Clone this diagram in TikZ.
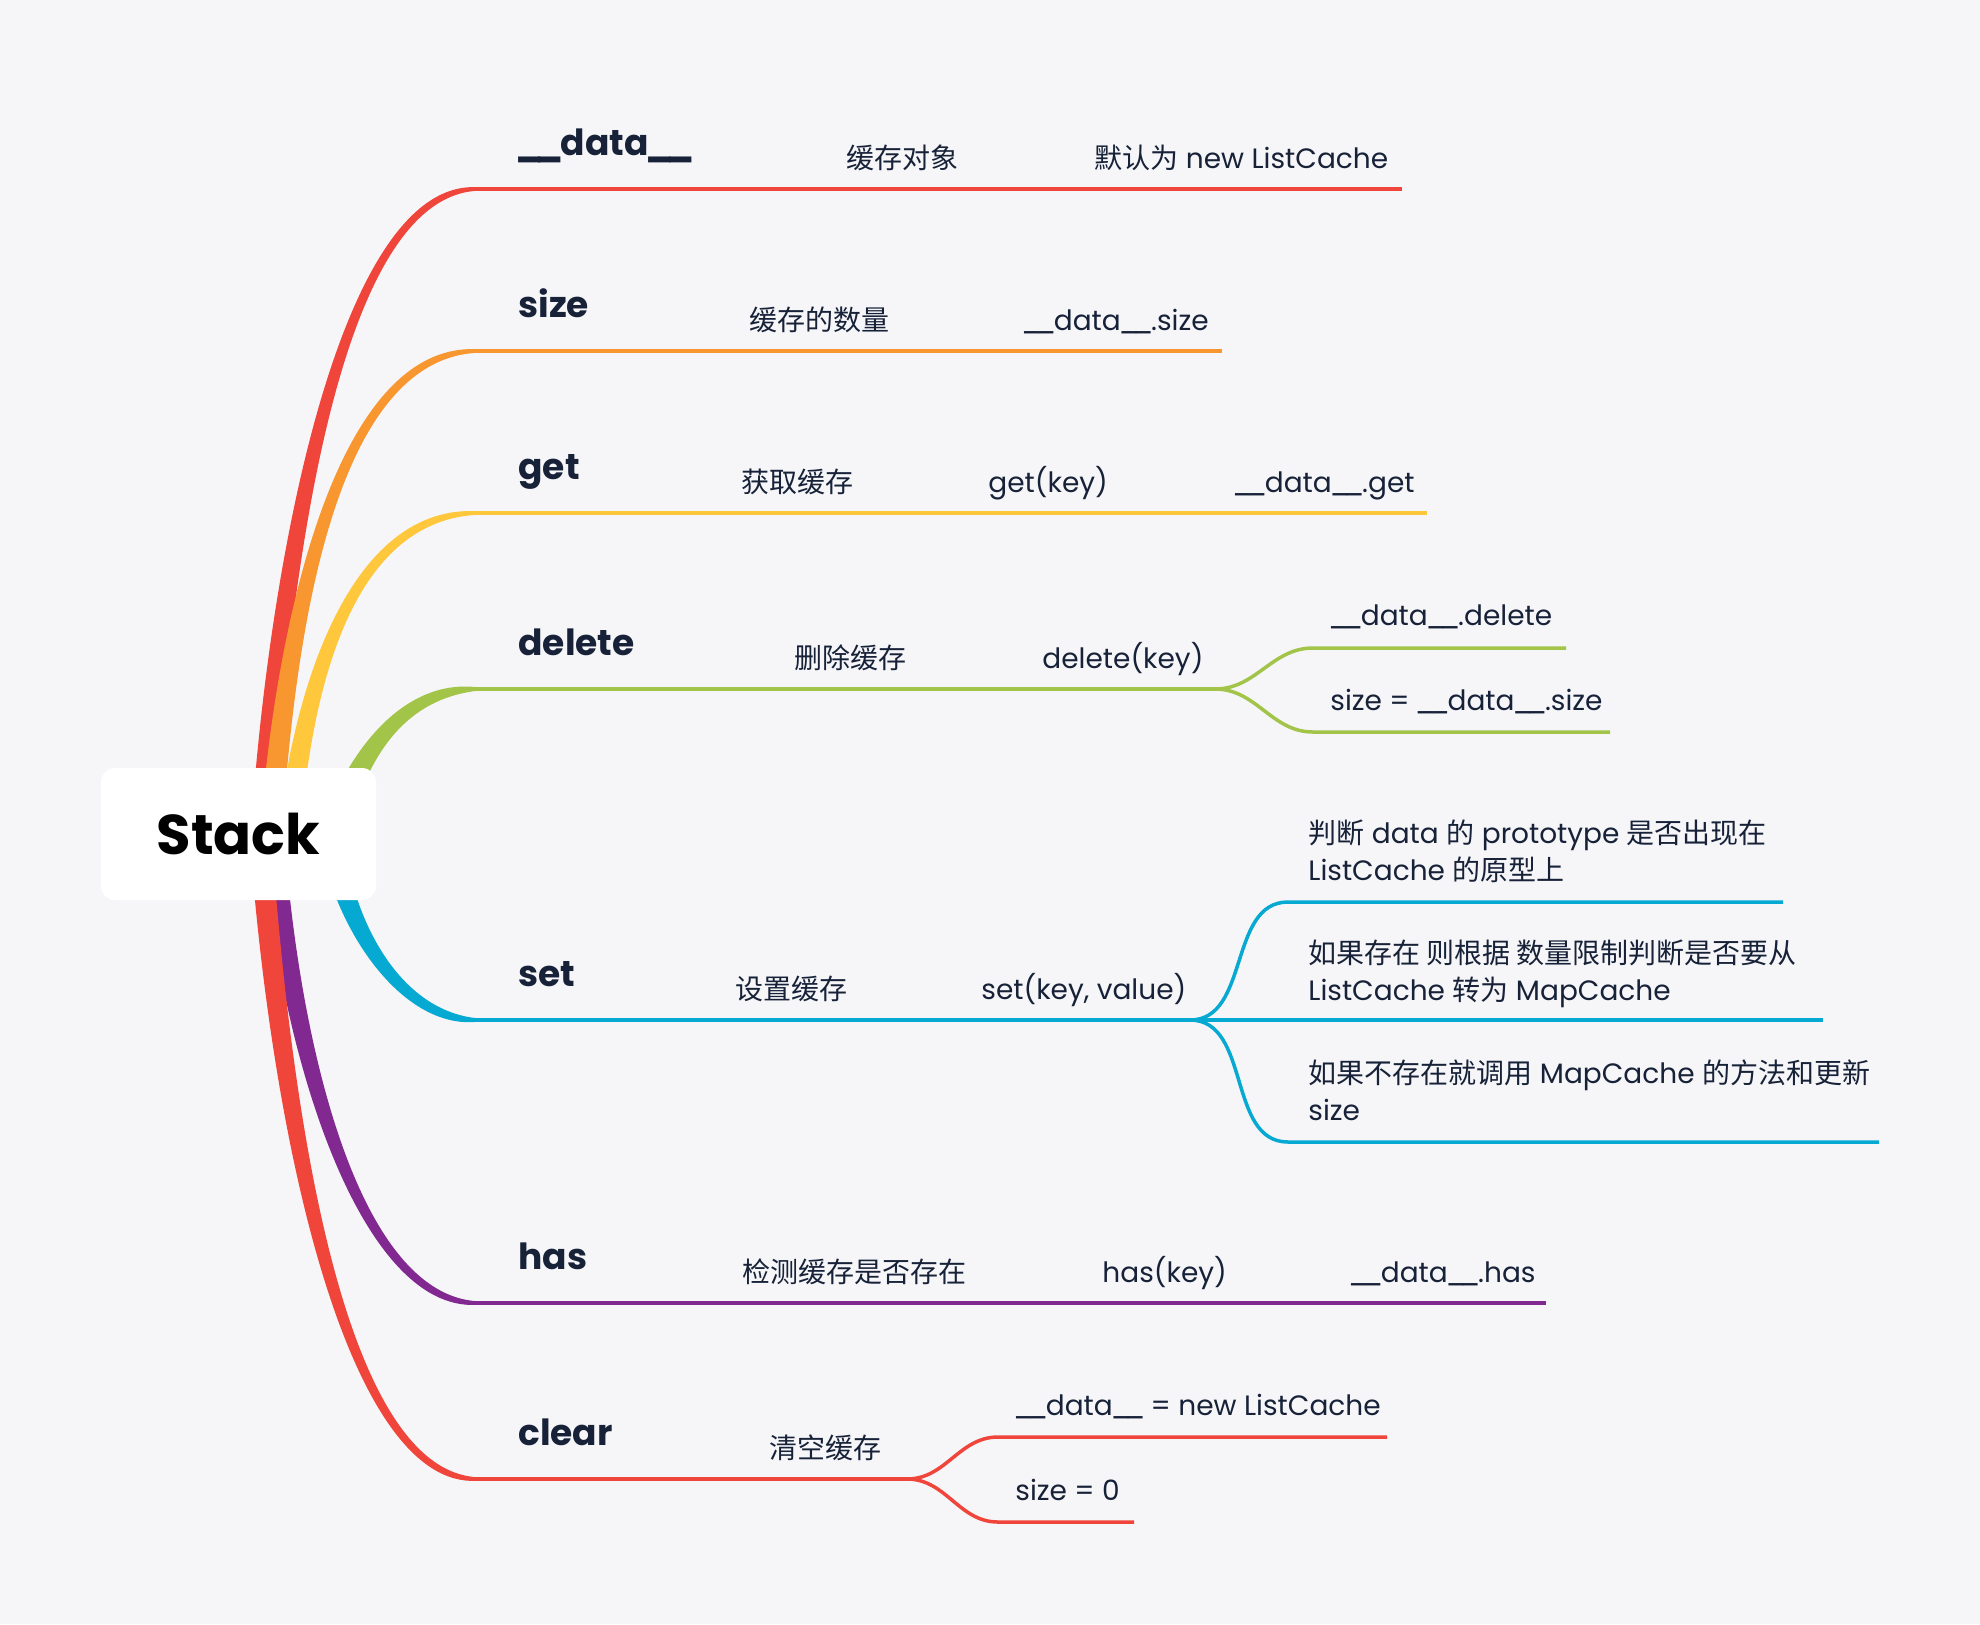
\documentclass[tikz,border=0pt]{standalone}
\usepackage{fontspec}
\setmainfont{Poppins}
\newfontfamily\cjk{Noto Sans CJK SC}
\usepackage{xcolor}
\usepackage{tikz}
\usetikzlibrary{positioning,calc}

\definecolor{bgc}{HTML}{F6F6F9}
\definecolor{ink}{HTML}{172238}
\definecolor{bred}{HTML}{F0453A}
\definecolor{borange}{HTML}{F8962F}
\definecolor{byellow}{HTML}{FFC83C}
\definecolor{bgreen}{HTML}{A2C449}
\definecolor{bblue}{HTML}{06A9D1}
\definecolor{bpurple}{HTML}{812990}

\newcommand{\zh}[1]{{\cjk #1}}
\newcommand{\du}{\kern-.08em\_\kern-.22em\_\kern-.08em}
% tapered stem: colour, start, control 1, control 2, end coordinate, side (1 up, -1 down), half width
\newcommand{\trunk}[7]{%
  \fill[#1] ([shift={(-#7,0)}]#2) .. controls ([shift={(-#7,0)}]#3) and ([shift={(0,{-(#7-2)*(#6)})}]#4) .. ([shift={(0,{-1.8*(#6)})}]#5)
    -- ([shift={(0,{1.8*(#6)})}]#5) .. controls ([shift={(0,{(#7-2)*(#6)})}]#4) and ([shift={(#7,0)}]#3) .. ([shift={(#7,0)}]#2) -- cycle;}

\begin{document}
\begin{tikzpicture}[x=0.5pt,y=-0.5pt,
    line/.style={line width=1.75pt},
    twig/.style={line width=1.75pt,out=0,in=180},
    main/.style={anchor=base west,inner sep=0pt,text=ink,font=\fontsize{18}{22}\selectfont\bfseries},
    sub/.style={anchor=base west,inner sep=0pt,text=ink,font=\fontsize{14}{18.5}\selectfont,align=left}]
    \fill[bgc] (0,0) rectangle (1980,1624);
    \useasboundingbox (0,0) rectangle (1980,1624);

    % joints and ends of the branches
    \coordinate (data-j) at (477,189);    \coordinate (data-e) at (1402,189);
    \coordinate (size-j) at (477,351);    \coordinate (size-e) at (1222,351);
    \coordinate (get-j) at (477,513);     \coordinate (get-e) at (1427,513);
    \coordinate (delete-j) at (477,689);  \coordinate (delete-s) at (1215,689);
    \coordinate (set-j) at (477,1020);    \coordinate (set-s) at (1190,1020);
    \coordinate (has-j) at (477,1303);    \coordinate (has-e) at (1546,1303);
    \coordinate (clear-j) at (477,1479);  \coordinate (clear-s) at (907,1479);

    % stems out of the root
    \trunk{bred}{262,830}{280,560}{340,189}{data-j}{1}{11}
    \trunk{borange}{270,850}{282,650}{330,351}{size-j}{1}{11}
    \trunk{byellow}{288,850}{297,720}{340,513}{get-j}{1}{11}
    \trunk{bgreen}{330,850}{345,780}{390,689}{delete-j}{1}{14}
    \trunk{bblue}{330,820}{335,910}{395,1020}{set-j}{-1}{12}
    \trunk{bpurple}{272,820}{287,1050}{360,1303}{has-j}{-1}{11}
    \trunk{bred}{258,800}{280,1150}{350,1479}{clear-j}{-1}{11}

    \node[fill=white,rounded corners=7pt,minimum width=137.5pt,minimum height=66pt,
      font=\fontsize{28}{34}\selectfont\bfseries] (stack) at (238.5,834) {Stack};

    % __data__
    \draw[line,bred] (data-j) -- (data-e);
    \node[main] (data) at (518,155) {\du data\du};
    \node[sub] (data-1) at (846,168) {\zh{缓存对象}};
    \node[sub] (data-2) at (1094,168) {\zh{默认为} new ListCache};

    % size
    \draw[line,borange] (size-j) -- (size-e);
    \node[main] (size) at (518,317) {size};
    \node[sub] (size-1) at (749,330) {\zh{缓存的数量}};
    \node[sub] (size-2) at (1023,330) {\du data\du.size};

    % get
    \draw[line,byellow] (get-j) -- (get-e);
    \node[main] (get) at (518,479) {get};
    \node[sub] (get-1) at (741,492) {\zh{获取缓存}};
    \node[sub] (get-2) at (988,492) {get(key)};
    \node[sub] (get-3) at (1234,492) {\du data\du.get};

    % delete
    \coordinate (del1-a) at (1313,648); \coordinate (del1-e) at (1566,648);
    \coordinate (del2-a) at (1313,732); \coordinate (del2-e) at (1610,732);
    \draw[line,bgreen] (delete-j) -- (delete-s);
    \draw[twig,bgreen] (delete-s) to (del1-a) -- (del1-e);
    \draw[twig,bgreen] (delete-s) to (del2-a) -- (del2-e);
    \node[main] (delete) at (518,655) {delete};
    \node[sub] (delete-1) at (794,668) {\zh{删除缓存}};
    \node[sub] (delete-2) at (1042,668) {delete(key)};
    \node[sub] (delete-3) at (1330,625) {\du data\du.delete};
    \node[sub] (delete-4) at (1330,710) {size = \du data\du.size};

    % set
    \coordinate (set1-a) at (1288,902);  \coordinate (set1-e) at (1783,902);
    \coordinate (set2-e) at (1823,1020);
    \coordinate (set3-a) at (1288,1142); \coordinate (set3-e) at (1879,1142);
    \draw[line,bblue] (set-j) -- (set-s) -- (set2-e);
    \draw[twig,bblue] (set-s) to (set1-a) -- (set1-e);
    \draw[twig,bblue] (set-s) to (set3-a) -- (set3-e);
    \node[main] (set) at (518,986) {set};
    \node[sub] (set-1) at (735,999) {\zh{设置缓存}};
    \node[sub] (set-2) at (981,999) {set(key, value)};
    \node[sub] (set-3) at (1308,880) {\zh{判断} data \zh{的} prototype \zh{是否出现在}\\ListCache \zh{的原型上}};
    \node[sub] (set-4) at (1308,1000) {\zh{如果存在 则根据 数量限制判断是否要从}\\ListCache \zh{转为} MapCache};
    \node[sub] (set-5) at (1308,1120) {\zh{如果不存在就调用} MapCache \zh{的方法和更新}\\size};

    % has
    \draw[line,bpurple] (has-j) -- (has-e);
    \node[main] (has) at (518,1269) {has};
    \node[sub] (has-1) at (742,1282) {\zh{检测缓存是否存在}};
    \node[sub] (has-2) at (1102,1282) {has(key)};
    \node[sub] (has-3) at (1350,1282) {\du data\du.has};

    % clear
    \coordinate (clr1-a) at (998,1437); \coordinate (clr1-e) at (1387,1437);
    \coordinate (clr2-a) at (998,1522); \coordinate (clr2-e) at (1134,1522);
    \draw[line,bred] (clear-j) -- (clear-s);
    \draw[twig,bred] (clear-s) to (clr1-a) -- (clr1-e);
    \draw[twig,bred] (clear-s) to (clr2-a) -- (clr2-e);
    \node[main] (clear) at (518,1445) {clear};
    \node[sub] (clear-1) at (769,1458) {\zh{清空缓存}};
    \node[sub] (clear-2) at (1015,1415) {\du data\du{} = new ListCache};
    \node[sub] (clear-3) at (1015,1500) {size = 0};
\end{tikzpicture}
\end{document}
